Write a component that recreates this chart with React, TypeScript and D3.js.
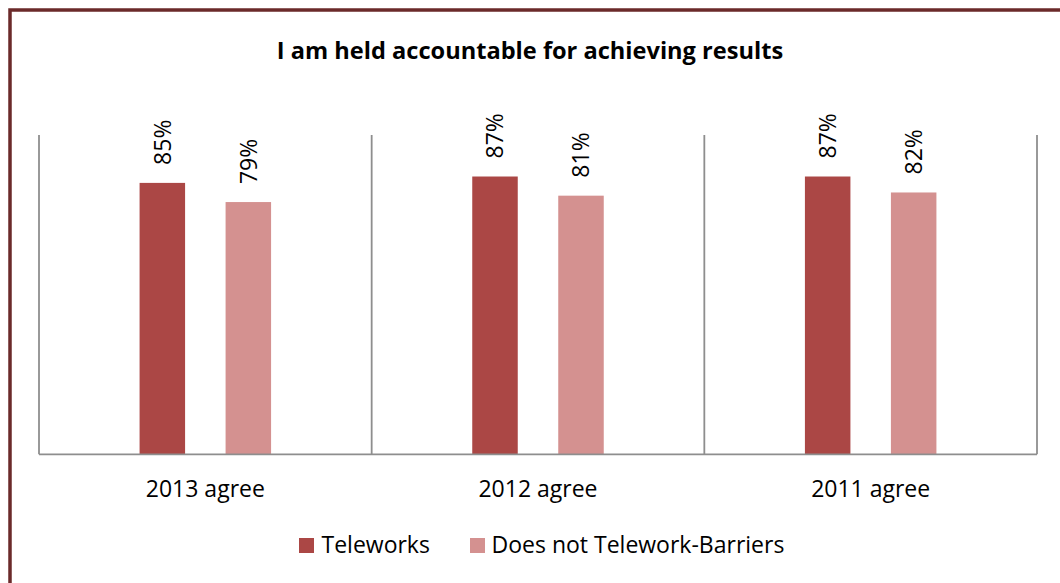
import React from "react";
import * as d3 from "d3";

const title = "I am held accountable for achieving results";
const categories = ["2013 agree", "2012 agree", "2011 agree"];
const seriesNames = ["Teleworks", "Does not Telework-Barriers"];
const teleworks = [0.85, 0.87, 0.87];
const doesNot = [0.79, 0.81, 0.82];
const seriesColors = ["#AB4745", "#D49190"];

const W = 1060;
const H = 583;
const plot = { left: 39, right: 1037, top: 135, bottom: 454.3 };
const FONT = "'Open Sans', 'Noto Sans', sans-serif";

export default function App() {
  const x = d3
    .scaleBand<string>()
    .domain(categories)
    .range([plot.left, plot.right])
    .paddingInner(0)
    .paddingOuter(0);
  const y = d3.scaleLinear().domain([0, 1]).range([plot.bottom, plot.top]);
  const series = [teleworks, doesNot];
  const barW = 45.5;
  const offsets = [-43, 43];
  const fmt = d3.format(".0%");

  const boundaries = [...categories.map((c) => x(c) as number), plot.right];

  return (
    <svg
      width={W}
      height={H}
      style={{ position: "absolute", left: 0, top: 0, background: "#fff" }}
    >
      <rect x={0} y={0} width={W} height={H} fill="#fff" />
      <rect
        x={10}
        y={10}
        width={W + 20}
        height={H + 20}
        fill="none"
        stroke="#6B2A2A"
        strokeWidth={3.5}
      />
      <text
        x={530}
        y={58.5}
        textAnchor="middle"
        fontFamily={FONT}
        fontWeight="bold"
        fontSize={23.6}
        fill="#000"
      >
        {title}
      </text>

      {boundaries.map((bx, i) => (
        <line
          key={"b" + i}
          x1={bx}
          x2={bx}
          y1={plot.top}
          y2={plot.bottom}
          stroke="#8E8E8E"
          strokeWidth={1.8}
        />
      ))}

      {series.map((vals, si) =>
        categories.map((c, ci) => {
          const cx = (x(c) as number) + x.bandwidth() / 2 + offsets[si];
          const top = y(vals[ci]);
          return (
            <g key={`s${si}-${ci}`}>
              <rect
                x={cx - barW / 2}
                y={top}
                width={barW}
                height={plot.bottom - top}
                fill={seriesColors[si]}
              />
              <text
                x={cx}
                y={top - 18}
                dy="0.36em"
                transform={`rotate(-90, ${cx}, ${top - 18})`}
                textAnchor="start"
                fontFamily={FONT}
                fontSize={23}
                fill="#000"
              >
                {fmt(vals[ci])}
              </text>
            </g>
          );
        })
      )}

      <line
        x1={plot.left}
        x2={plot.right}
        y1={plot.bottom}
        y2={plot.bottom}
        stroke="#8E8E8E"
        strokeWidth={1.8}
      />
      {categories.map((c) => (
        <text
          key={c}
          x={(x(c) as number) + x.bandwidth() / 2}
          y={497}
          textAnchor="middle"
          fontFamily={FONT}
          fontSize={23}
          fill="#000"
        >
          {c}
        </text>
      ))}

      {(() => {
        const items = [
          { sq: 299, tx: 321.5 },
          { sq: 470, tx: 491.5 },
        ];
        return seriesNames.map((n, i) => (
          <g key={n}>
            <rect x={items[i].sq} y={538} width={15} height={15} fill={seriesColors[i]} />
            <text
              x={items[i].tx}
              y={553}
              fontFamily={FONT}
              fontSize={23}
              fill="#000"
            >
              {n}
            </text>
          </g>
        ));
      })()}
    </svg>
  );
}
